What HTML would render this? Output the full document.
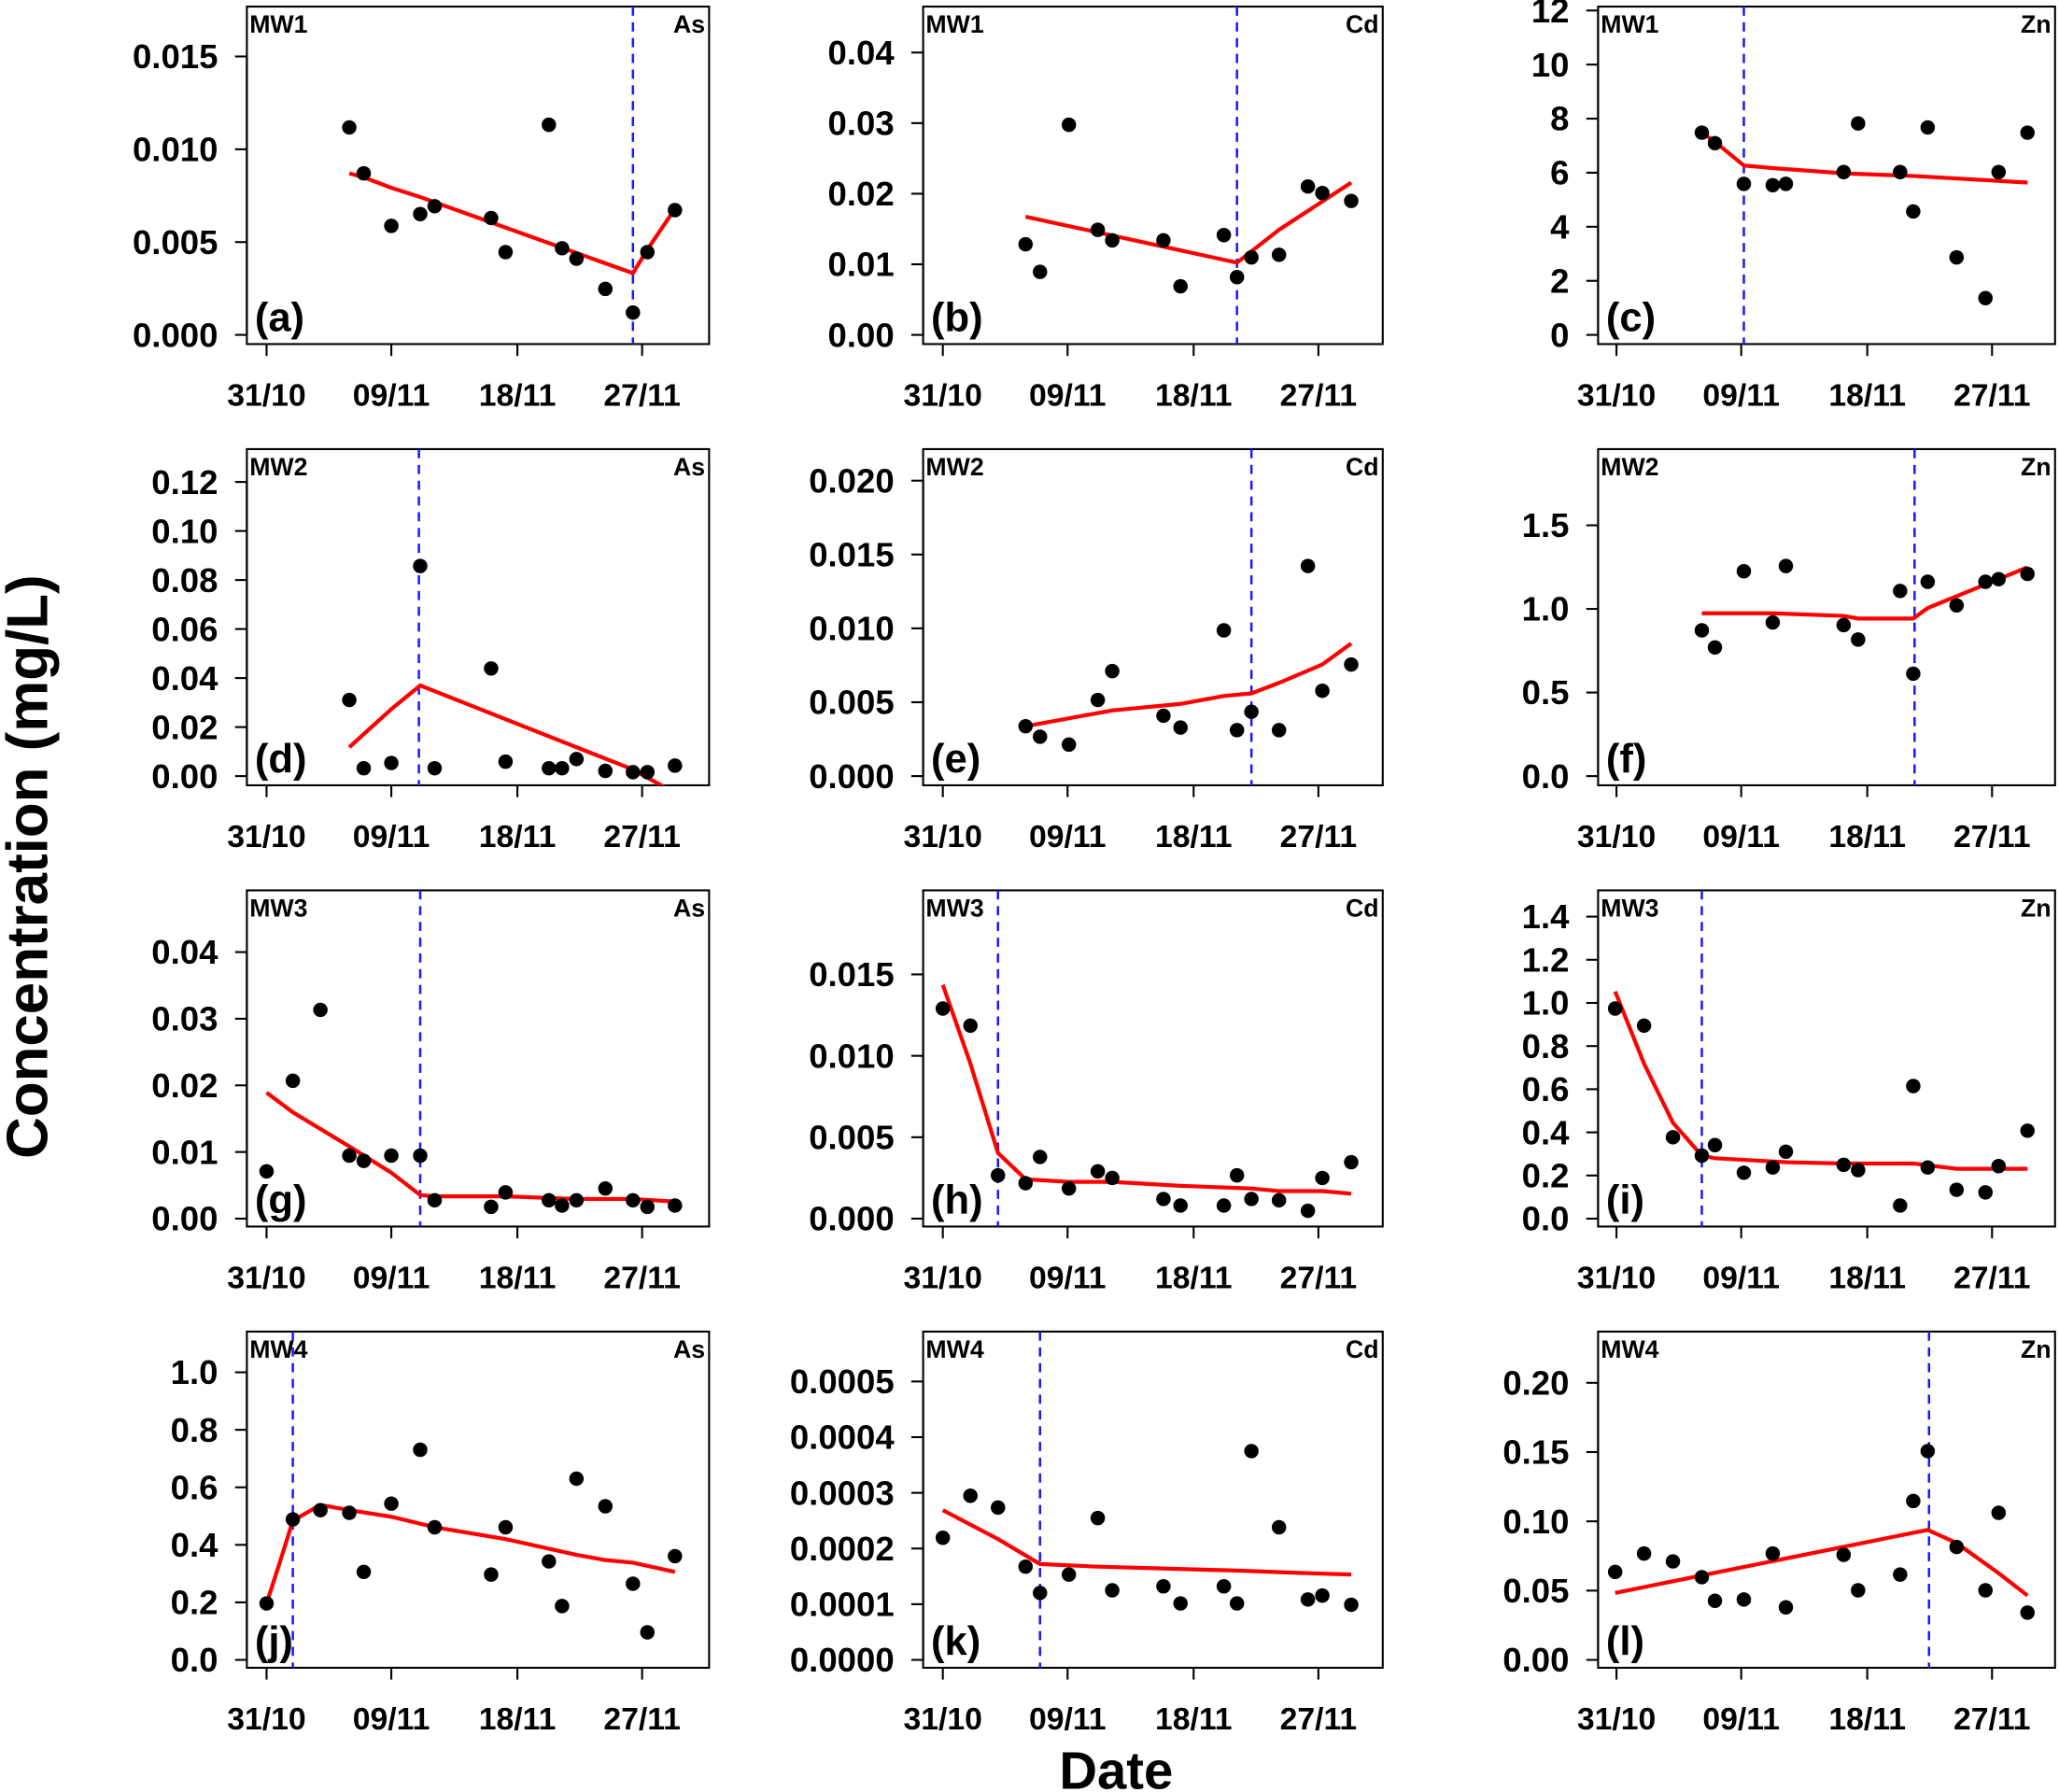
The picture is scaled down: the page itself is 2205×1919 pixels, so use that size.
<!DOCTYPE html>
<html><head><meta charset="utf-8"><style>
html,body{margin:0;padding:0;background:#fff;}
svg{display:block}
text{font-family:"Liberation Sans",sans-serif;font-weight:bold;fill:#000}
</style></head><body>
<svg id="s" width="2205" height="1919" viewBox="0 0 1568 1364.6" xmlns="http://www.w3.org/2000/svg">
<text x="0" y="0" font-size="44" text-anchor="middle" transform="translate(36,660) rotate(-90)">Concentration (mg/L)</text>
<text x="850" y="1362" font-size="40" text-anchor="middle">Date</text>
</svg>
<script>
var S=document.getElementById('s'),NS="http://www.w3.org/2000/svg";
function el(t,a,txt){var e=document.createElementNS(NS,t);for(var k in a)e.setAttribute(k,a[k]);if(txt!==undefined)e.textContent=txt;S.appendChild(e);return e;}
var colL=[188,703,1217],colR=[540,1053,1565],colOff=[0,515,1028];
var rowT=[5,342,678,1014],rowB=[262,598,934,1270];
var P=[
{r:0,c:0,w:"MW1",m:"As",l:"(a)",t:["0.000","0.005","0.010","0.015"],y0:255,y1:43,v:482,
d:[[266,97],[277,132],[298,172],[320,163],[331,157],[374,166],[385,192],[418,95],[428,189],[439,197],[461,220],[482,238],[493,192],[514,160]],
L:[[266,132],[277,135],[298,143],[320,150],[331,154],[482,208],[493,190],[514,159]]},
{r:0,c:1,w:"MW1",m:"Cd",l:"(b)",t:["0.00","0.01","0.02","0.03","0.04"],y0:255,y1:40,v:942,
d:[[781,186],[792,207],[814,95],[836,175],[847,183],[886,183],[899,218],[932,179],[942,211],[953,196],[974,194],[996,142],[1007,147],[1029,153]],
L:[[781,165],[942,200],[974,175],[1029,139]]},
{r:0,c:2,w:"MW1",m:"Zn",l:"(c)",t:["0","2","4","6","8","10","12"],y0:255,y1:8,v:1328,
d:[[1296,101],[1306,109],[1328,140],[1350,141],[1360,140],[1404,131],[1415,94],[1447,131],[1457,161],[1468,97],[1490,196],[1512,227],[1522,131],[1544,101]],
L:[[1296,101],[1306,108],[1328,126],[1350,128],[1404,132],[1457,134],[1544,139]]},
{r:1,c:0,w:"MW2",m:"As",l:"(d)",t:["0.00","0.02","0.04","0.06","0.08","0.10","0.12"],y0:591,y1:367,v:319,
d:[[266,533],[277,585],[298,581],[320,431],[331,585],[374,509],[385,580],[418,585],[428,585],[439,578],[461,587],[482,588],[493,588],[514,583]],
L:[[266,569],[298,540],[320,522],[482,586],[507,600]]},
{r:1,c:1,w:"MW2",m:"Cd",l:"(e)",t:["0.000","0.005","0.010","0.015","0.020"],y0:591,y1:366,v:953,
d:[[781,553],[792,561],[814,567],[836,533],[847,511],[886,545],[899,554],[932,480],[942,556],[953,542],[974,556],[996,431],[1007,526],[1029,506]],
L:[[781,553],[814,547],[847,541],[899,536],[932,530],[953,528],[974,520],[1007,506],[1029,490]]},
{r:1,c:2,w:"MW2",m:"Zn",l:"(f)",t:["0.0","0.5","1.0","1.5"],y0:591,y1:400,v:1458,
d:[[1296,480],[1306,493],[1328,435],[1350,474],[1360,431],[1404,476],[1415,487],[1447,450],[1457,513],[1468,443],[1490,461],[1512,443],[1522,441],[1544,437]],
L:[[1296,467],[1350,467],[1404,469],[1415,471],[1457,471],[1468,463],[1544,432]]},
{r:2,c:0,w:"MW3",m:"As",l:"(g)",t:["0.00","0.01","0.02","0.03","0.04"],y0:928,y1:725,v:320,
d:[[203,892],[223,823],[244,769],[266,880],[277,884],[298,880],[320,880],[331,914],[374,919],[385,908],[418,914],[428,918],[439,914],[461,905],[482,914],[493,919],[514,918]],
L:[[203,832],[223,847],[266,873],[298,893],[320,910],[331,911],[385,911],[439,913],[482,913],[514,915]]},
{r:2,c:1,w:"MW3",m:"Cd",l:"(h)",t:["0.000","0.005","0.010","0.015"],y0:928,y1:742,v:760,
d:[[718,768],[739,781],[760,895],[781,901],[792,881],[814,905],[836,892],[847,897],[886,913],[899,918],[932,918],[942,895],[953,913],[974,914],[996,922],[1007,897],[1029,885]],
L:[[718,750],[739,810],[760,878],[781,898],[814,900],[847,900],[899,903],[953,905],[974,907],[1007,907],[1029,909]]},
{r:2,c:2,w:"MW3",m:"Zn",l:"(i)",t:["0.0","0.2","0.4","0.6","0.8","1.0","1.2","1.4"],y0:928,y1:698,v:1296,
d:[[1230,768],[1252,781],[1274,866],[1296,880],[1306,872],[1328,893],[1350,889],[1360,877],[1404,887],[1415,891],[1447,918],[1457,827],[1468,889],[1490,906],[1512,908],[1522,888],[1544,861]],
L:[[1230,755],[1252,810],[1274,855],[1296,880],[1306,882],[1360,885],[1404,886],[1457,886],[1490,890],[1544,890]]},
{r:3,c:0,w:"MW4",m:"As",l:"(j)",t:["0.0","0.2","0.4","0.6","0.8","1.0"],y0:1264,y1:1045,v:223,
d:[[203,1221],[223,1157],[244,1150],[266,1152],[277,1197],[298,1145],[320,1104],[331,1163],[374,1199],[385,1163],[418,1189],[428,1223],[439,1126],[461,1147],[482,1206],[493,1243],[514,1185]],
L:[[203,1221],[213,1190],[223,1158],[244,1146],[266,1150],[298,1155],[331,1163],[385,1172],[439,1184],[461,1188],[482,1190],[514,1197]]},
{r:3,c:1,w:"MW4",m:"Cd",l:"(k)",t:["0.0000","0.0001","0.0002","0.0003","0.0004","0.0005"],y0:1264,y1:1052,v:792,
d:[[718,1171],[739,1139],[760,1148],[781,1193],[792,1213],[814,1199],[836,1156],[847,1211],[886,1208],[899,1221],[932,1208],[942,1221],[953,1105],[974,1163],[996,1218],[1007,1215],[1029,1222]],
L:[[718,1150],[760,1172],[792,1191],[836,1193],[942,1196],[996,1198],[1029,1199]]},
{r:3,c:2,w:"MW4",m:"Zn",l:"(l)",t:["0.00","0.05","0.10","0.15","0.20"],y0:1264,y1:1053,v:1469,
d:[[1230,1197],[1252,1183],[1274,1189],[1296,1201],[1306,1219],[1328,1218],[1350,1183],[1360,1224],[1404,1184],[1415,1211],[1447,1199],[1457,1143],[1468,1105],[1490,1178],[1512,1211],[1522,1152],[1544,1228]],
L:[[1230,1213],[1468,1165],[1490,1175],[1522,1198],[1544,1215]]}
];
var xt=[[203,"31/10"],[298,"09/11"],[394,"18/11"],[489,"27/11"]];
P.forEach(function(p,i){
 var L=colL[p.c],R=colR[p.c],T=rowT[p.r],B=rowB[p.r],o=colOff[p.c];
 var cid="c"+i;
 var cp=el("clipPath",{id:cid});cp.appendChild((function(){var r=document.createElementNS(NS,"rect");r.setAttribute("x",L);r.setAttribute("y",T);r.setAttribute("width",R-L);r.setAttribute("height",B-T);return r;})());
 el("rect",{x:L,y:T,width:R-L,height:B-T,fill:"none",stroke:"#000","stroke-width":1.5});
 var n=p.t.length;
 p.t.forEach(function(s,k){var y=p.y0+(p.y1-p.y0)*k/(n-1);
  el("line",{x1:L-9,y1:y,x2:L,y2:y,stroke:"#000","stroke-width":1.5});
  el("text",{x:L-22,y:y+9,"font-size":26,"text-anchor":"end"},s);});
 el("line",{x1:L,y1:p.y0,x2:L,y2:p.y1,stroke:"#000","stroke-width":1.5});
 xt.forEach(function(t){var x=t[0]+o;
  el("line",{x1:x,y1:B,x2:x,y2:B+9,stroke:"#000","stroke-width":1.5});
  el("text",{x:x,y:B+47,"font-size":24,"text-anchor":"middle"},t[1]);});
 el("line",{x1:p.v,y1:T,x2:p.v,y2:B,stroke:"#1a1aff","stroke-width":1.8,"stroke-dasharray":"7,5"});
 el("polyline",{points:p.L.map(function(a){return a.join(",")}).join(" "),fill:"none",stroke:"#ff0000","stroke-width":3,"clip-path":"url(#"+cid+")"});
 p.d.forEach(function(a){el("circle",{cx:a[0],cy:a[1],r:5.5,fill:"#000"});});
 el("text",{x:L+2,y:T+20,"font-size":19},p.w);
 el("text",{x:R-3,y:T+20,"font-size":19,"text-anchor":"end"},p.m);
 el("text",{x:L+6,y:B-10,"font-size":31},p.l);
});
</script>
</body></html>
